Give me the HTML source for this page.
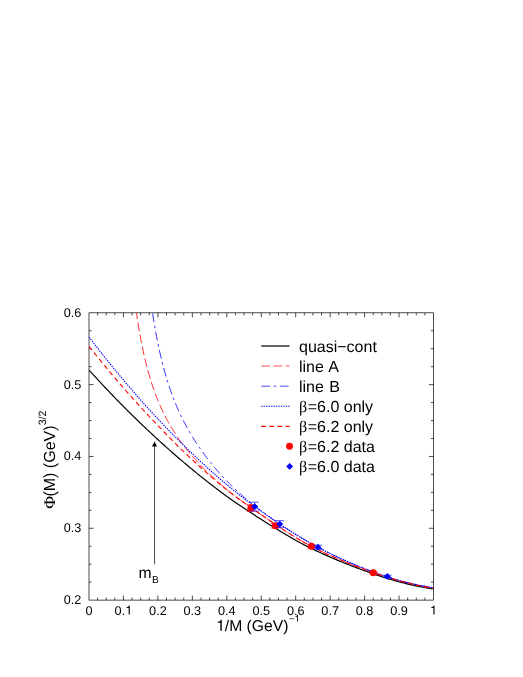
<!DOCTYPE html>
<html><head><meta charset="utf-8"><title>Phi(M) vs 1/M</title>
<style>
html,body{margin:0;padding:0;background:#fff;}
body{width:523px;height:677px;position:relative;overflow:hidden;font-family:"Liberation Sans",sans-serif;}
</style></head><body>
<svg width="523" height="677" viewBox="0 0 523 677" style="position:absolute;left:0;top:0">
<defs><clipPath id="c"><rect x="89" y="312.8" width="344.5" height="287.3"/></clipPath><filter id="gray" x="0" y="0" width="523" height="677" filterUnits="userSpaceOnUse" color-interpolation-filters="sRGB"><feColorMatrix type="saturate" values="0"/></filter></defs>
<rect x="89.0" y="312.8" width="344.5" height="287.3" fill="none" stroke="#000" stroke-width="0.7"/>
<path d="M97.61,600.1v-2.6M97.61,312.8v2.6M106.22,600.1v-2.6M106.22,312.8v2.6M114.84,600.1v-2.6M114.84,312.8v2.6M123.45,600.1v-4.6M123.45,312.8v4.6M132.06,600.1v-2.6M132.06,312.8v2.6M140.68,600.1v-2.6M140.68,312.8v2.6M149.29,600.1v-2.6M149.29,312.8v2.6M157.90,600.1v-4.6M157.90,312.8v4.6M166.51,600.1v-2.6M166.51,312.8v2.6M175.12,600.1v-2.6M175.12,312.8v2.6M183.74,600.1v-2.6M183.74,312.8v2.6M192.35,600.1v-4.6M192.35,312.8v4.6M200.96,600.1v-2.6M200.96,312.8v2.6M209.58,600.1v-2.6M209.58,312.8v2.6M218.19,600.1v-2.6M218.19,312.8v2.6M226.80,600.1v-4.6M226.80,312.8v4.6M235.41,600.1v-2.6M235.41,312.8v2.6M244.03,600.1v-2.6M244.03,312.8v2.6M252.64,600.1v-2.6M252.64,312.8v2.6M261.25,600.1v-4.6M261.25,312.8v4.6M269.86,600.1v-2.6M269.86,312.8v2.6M278.48,600.1v-2.6M278.48,312.8v2.6M287.09,600.1v-2.6M287.09,312.8v2.6M295.70,600.1v-4.6M295.70,312.8v4.6M304.31,600.1v-2.6M304.31,312.8v2.6M312.93,600.1v-2.6M312.93,312.8v2.6M321.54,600.1v-2.6M321.54,312.8v2.6M330.15,600.1v-4.6M330.15,312.8v4.6M338.76,600.1v-2.6M338.76,312.8v2.6M347.38,600.1v-2.6M347.38,312.8v2.6M355.99,600.1v-2.6M355.99,312.8v2.6M364.60,600.1v-4.6M364.60,312.8v4.6M373.21,600.1v-2.6M373.21,312.8v2.6M381.83,600.1v-2.6M381.83,312.8v2.6M390.44,600.1v-2.6M390.44,312.8v2.6M399.05,600.1v-4.6M399.05,312.8v4.6M407.66,600.1v-2.6M407.66,312.8v2.6M416.28,600.1v-2.6M416.28,312.8v2.6M424.89,600.1v-2.6M424.89,312.8v2.6M89.0,582.14h2.6M433.5,582.14h-2.6M89.0,564.19h2.6M433.5,564.19h-2.6M89.0,546.23h2.6M433.5,546.23h-2.6M89.0,528.27h4.6M433.5,528.27h-4.6M89.0,510.32h2.6M433.5,510.32h-2.6M89.0,492.36h2.6M433.5,492.36h-2.6M89.0,474.41h2.6M433.5,474.41h-2.6M89.0,456.45h4.6M433.5,456.45h-4.6M89.0,438.49h2.6M433.5,438.49h-2.6M89.0,420.54h2.6M433.5,420.54h-2.6M89.0,402.58h2.6M433.5,402.58h-2.6M89.0,384.63h4.6M433.5,384.63h-4.6M89.0,366.67h2.6M433.5,366.67h-2.6M89.0,348.71h2.6M433.5,348.71h-2.6M89.0,330.76h2.6M433.5,330.76h-2.6" stroke="#000" stroke-width="0.7" fill="none"/>
<g clip-path="url(#c)" fill="none">
<path d="M89.00,370.07 L90.15,371.34 L91.30,372.61 L92.46,373.87 L93.61,375.13 L94.76,376.39 L95.91,377.64 L97.07,378.89 L98.22,380.13 L99.37,381.37 L100.52,382.61 L101.67,383.84 L102.83,385.07 L103.98,386.30 L105.13,387.52 L106.28,388.74 L107.43,389.96 L108.59,391.17 L109.74,392.38 L110.89,393.58 L112.04,394.78 L113.20,395.98 L114.35,397.17 L115.50,398.36 L116.65,399.55 L117.80,400.73 L118.96,401.91 L120.11,403.09 L121.26,404.26 L122.41,405.43 L123.57,406.59 L124.72,407.75 L125.87,408.91 L127.02,410.06 L128.17,411.21 L129.33,412.35 L130.48,413.50 L131.63,414.63 L132.78,415.77 L133.93,416.90 L135.09,418.02 L136.24,419.15 L137.39,420.27 L138.54,421.38 L139.70,422.49 L140.85,423.60 L142.00,424.70 L143.15,425.81 L144.30,426.90 L145.46,428.00 L146.61,429.09 L147.76,430.17 L148.91,431.26 L150.07,432.34 L151.22,433.41 L152.37,434.49 L153.52,435.55 L154.67,436.62 L155.83,437.68 L156.98,438.74 L158.13,439.80 L159.28,440.85 L160.43,441.89 L161.59,442.94 L162.74,443.98 L163.89,445.02 L165.04,446.05 L166.20,447.08 L167.35,448.11 L168.50,449.13 L169.65,450.15 L170.80,451.17 L171.96,452.18 L173.11,453.19 L174.26,454.20 L175.41,455.20 L176.57,456.20 L177.72,457.20 L178.87,458.19 L180.02,459.18 L181.17,460.16 L182.33,461.15 L183.48,462.13 L184.63,463.10 L185.78,464.07 L186.93,465.04 L188.09,466.01 L189.24,466.97 L190.39,467.93 L191.54,468.88 L192.70,469.83 L193.85,470.78 L195.00,471.72 L196.15,472.66 L197.30,473.60 L198.46,474.53 L199.61,475.46 L200.76,476.39 L201.91,477.31 L203.07,478.23 L204.22,479.15 L205.37,480.06 L206.52,480.97 L207.67,481.87 L208.83,482.77 L209.98,483.67 L211.13,484.57 L212.28,485.46 L213.43,486.34 L214.59,487.23 L215.74,488.11 L216.89,488.98 L218.04,489.85 L219.20,490.72 L220.35,491.59 L221.50,492.45 L222.65,493.31 L223.80,494.16 L224.96,495.01 L226.11,495.86 L227.26,496.70 L228.41,497.54 L229.57,498.36 L230.72,499.18 L231.87,500.00 L233.02,500.80 L234.17,501.60 L235.33,502.40 L236.48,503.18 L237.63,503.97 L238.78,504.74 L239.93,505.52 L241.09,506.29 L242.24,507.05 L243.39,507.82 L244.54,508.58 L245.70,509.34 L246.85,510.09 L248.00,510.85 L249.15,511.60 L250.30,512.36 L251.46,513.11 L252.61,513.86 L253.76,514.62 L254.91,515.37 L256.07,516.13 L257.22,516.88 L258.37,517.62 L259.52,518.37 L260.67,519.11 L261.83,519.85 L262.98,520.58 L264.13,521.31 L265.28,522.04 L266.43,522.76 L267.59,523.48 L268.74,524.19 L269.89,524.90 L271.04,525.61 L272.20,526.32 L273.35,527.02 L274.50,527.72 L275.65,528.41 L276.80,529.11 L277.96,529.81 L279.11,530.50 L280.26,531.20 L281.41,531.90 L282.57,532.59 L283.72,533.28 L284.87,533.98 L286.02,534.67 L287.17,535.35 L288.33,536.03 L289.48,536.71 L290.63,537.39 L291.78,538.06 L292.93,538.72 L294.09,539.38 L295.24,540.03 L296.39,540.68 L297.54,541.32 L298.70,541.95 L299.85,542.57 L301.00,543.18 L302.15,543.79 L303.30,544.39 L304.46,544.99 L305.61,545.58 L306.76,546.16 L307.91,546.74 L309.07,547.32 L310.22,547.88 L311.37,548.45 L312.52,549.00 L313.67,549.56 L314.83,550.11 L315.98,550.65 L317.13,551.19 L318.28,551.73 L319.43,552.26 L320.59,552.79 L321.74,553.32 L322.89,553.84 L324.04,554.36 L325.20,554.88 L326.35,555.39 L327.50,555.90 L328.65,556.41 L329.80,556.92 L330.96,557.43 L332.11,557.93 L333.26,558.42 L334.41,558.92 L335.57,559.40 L336.72,559.89 L337.87,560.37 L339.02,560.85 L340.17,561.32 L341.33,561.79 L342.48,562.26 L343.63,562.72 L344.78,563.18 L345.93,563.64 L347.09,564.09 L348.24,564.54 L349.39,564.99 L350.54,565.44 L351.70,565.88 L352.85,566.33 L354.00,566.77 L355.15,567.20 L356.30,567.64 L357.46,568.07 L358.61,568.51 L359.76,568.94 L360.91,569.37 L362.07,569.79 L363.22,570.22 L364.37,570.64 L365.52,571.06 L366.67,571.48 L367.83,571.89 L368.98,572.30 L370.13,572.71 L371.28,573.12 L372.43,573.52 L373.59,573.92 L374.74,574.32 L375.89,574.72 L377.04,575.11 L378.20,575.49 L379.35,575.88 L380.50,576.26 L381.65,576.63 L382.80,577.01 L383.96,577.38 L385.11,577.74 L386.26,578.10 L387.41,578.46 L388.57,578.81 L389.72,579.16 L390.87,579.50 L392.02,579.84 L393.17,580.18 L394.33,580.51 L395.48,580.83 L396.63,581.16 L397.78,581.47 L398.93,581.78 L400.09,582.09 L401.24,582.39 L402.39,582.69 L403.54,582.98 L404.70,583.26 L405.85,583.55 L407.00,583.82 L408.15,584.10 L409.30,584.36 L410.46,584.63 L411.61,584.88 L412.76,585.14 L413.91,585.39 L415.07,585.63 L416.22,585.87 L417.37,586.11 L418.52,586.34 L419.67,586.57 L420.83,586.79 L421.98,587.01 L423.13,587.22 L424.28,587.43 L425.43,587.64 L426.59,587.84 L427.74,588.04 L428.89,588.23 L430.04,588.42 L431.20,588.60 L432.35,588.78 L433.50,588.95" stroke="#000" stroke-width="1.2"/>
<path d="M133.52,290.24 L134.58,298.87 L135.64,306.91 L136.70,314.42 L137.76,321.43 L138.82,327.99 L139.88,334.15 L140.94,339.94 L142.00,345.38 L143.06,350.51 L144.12,355.35 L145.18,359.92 L146.24,364.25 L147.30,368.36 L148.36,372.27 L149.42,375.98 L150.48,379.52 L151.54,382.89 L152.60,386.12 L153.66,389.22 L154.72,392.18 L155.78,395.03 L156.84,397.77 L157.90,400.41 L158.96,402.95 L160.02,405.40 L161.08,407.77 L162.14,410.07 L163.20,412.29 L164.26,414.44 L165.32,416.53 L166.38,418.56 L167.44,420.54 L168.50,422.46 L169.56,424.33 L170.62,426.15 L171.68,427.93 L172.74,429.67 L173.80,431.36 L174.86,433.02 L175.92,434.64 L176.98,436.23 L178.04,437.79 L179.10,439.31 L180.16,440.80 L181.22,442.26 L182.28,443.70 L183.34,445.11 L184.40,446.49 L185.46,447.85 L186.52,449.19 L187.58,450.50 L188.64,451.80 L189.70,453.07 L190.76,454.33 L191.82,455.57 L192.88,456.79 L193.94,457.99 L195.00,459.18 L196.06,460.36 L197.12,461.52 L198.18,462.66 L199.24,463.79 L200.30,464.91 L201.36,466.02 L202.42,467.11 L203.48,468.19 L204.54,469.26 L205.60,470.31 L206.66,471.36 L207.72,472.39 L208.78,473.42 L209.84,474.43 L210.90,475.44 L211.96,476.44 L213.02,477.42 L214.08,478.40 L215.14,479.37 L216.20,480.33 L217.26,481.28 L218.32,482.22 L219.38,483.16 L220.44,484.09 L221.50,485.01 L222.56,485.92 L223.62,486.83 L224.68,487.73 L225.74,488.62 L226.80,489.50 L227.86,490.38 L228.92,491.25 L229.98,492.11 L231.04,492.95 L232.10,493.79 L233.16,494.62 L234.22,495.43 L235.28,496.24 L236.34,497.05 L237.40,497.84 L238.46,498.63 L239.52,499.42 L240.58,500.19 L241.64,500.96 L242.70,501.73 L243.76,502.49 L244.82,503.25 L245.88,504.00 L246.94,504.75 L248.00,505.50 L249.06,506.25 L250.12,506.99 L251.18,507.73 L252.24,508.47 L253.30,509.21 L254.36,509.95 L255.42,510.69 L256.48,511.43 L257.54,512.17 L258.60,512.91 L259.66,513.65 L260.72,514.39 L261.78,515.13 L262.84,515.87 L263.90,516.60 L264.96,517.34 L266.02,518.07 L267.08,518.80 L268.14,519.52 L269.20,520.24 L270.26,520.96 L271.32,521.68 L272.38,522.39 L273.44,523.10 L274.50,523.80 L275.56,524.51 L276.62,525.21 L277.68,525.91 L278.74,526.62 L279.80,527.32 L280.86,528.02 L281.92,528.72 L282.98,529.42 L284.04,530.12 L285.10,530.81 L286.16,531.51 L287.22,532.19 L288.28,532.88 L289.34,533.56 L290.40,534.23 L291.46,534.90 L292.52,535.57 L293.58,536.22 L294.64,536.88 L295.70,537.52 L296.76,538.16 L297.82,538.79 L298.88,539.41 L299.94,540.02 L301.00,540.63 L302.06,541.23 L303.12,541.82 L304.18,542.41 L305.24,542.99 L306.30,543.57 L307.36,544.14 L308.42,544.71 L309.48,545.27 L310.54,545.83 L311.60,546.38 L312.66,546.93 L313.72,547.47 L314.78,548.01 L315.84,548.55 L316.90,549.08 L317.96,549.61 L319.02,550.13 L320.08,550.65 L321.14,551.16 L322.20,551.68 L323.26,552.19 L324.32,552.69 L325.38,553.19 L326.44,553.69 L327.50,554.19 L328.56,554.69 L329.62,555.18 L330.68,555.67 L331.74,556.15 L332.80,556.63 L333.86,557.10 L334.92,557.57 L335.98,558.03 L337.04,558.49 L338.10,558.95 L339.16,559.40 L340.22,559.85 L341.28,560.30 L342.34,560.74 L343.40,561.18 L344.46,561.61 L345.52,562.04 L346.58,562.47 L347.64,562.90 L348.70,563.33 L349.76,563.75 L350.82,564.17 L351.88,564.59 L352.94,565.01 L354.00,565.42 L355.06,565.84 L356.12,566.25 L357.18,566.66 L358.24,567.07 L359.30,567.49 L360.36,567.90 L361.42,568.30 L362.48,568.71 L363.54,569.11 L364.60,569.51 L365.66,569.90 L366.72,570.29 L367.78,570.68 L368.84,571.06 L369.90,571.44 L370.96,571.82 L372.02,572.19 L373.08,572.56 L374.14,572.93 L375.20,573.30 L376.26,573.66 L377.32,574.01 L378.38,574.37 L379.44,574.72 L380.50,575.06 L381.56,575.41 L382.62,575.75 L383.68,576.09 L384.74,576.42 L385.80,576.75 L386.86,577.08 L387.92,577.41 L388.98,577.73 L390.04,578.04 L391.10,578.36 L392.16,578.67 L393.22,578.98 L394.28,579.29 L395.34,579.59 L396.40,579.89 L397.46,580.18 L398.52,580.48 L399.58,580.77 L400.64,581.05 L401.70,581.34 L402.76,581.62 L403.82,581.89 L404.88,582.17 L405.94,582.44 L407.00,582.71 L408.06,582.97 L409.12,583.24 L410.18,583.50 L411.24,583.75 L412.30,584.00 L413.36,584.25 L414.42,584.50 L415.48,584.75 L416.54,584.99 L417.60,585.22 L418.66,585.46 L419.72,585.69 L420.78,585.92 L421.84,586.15 L422.90,586.37 L423.96,586.59 L425.02,586.81 L426.08,587.02 L427.14,587.24 L428.20,587.44 L429.26,587.65 L430.32,587.85 L431.38,588.05 L432.44,588.25 L433.50,588.45" stroke="#f00" stroke-width="0.8" stroke-dasharray="8.8 3.4" stroke-dashoffset="4.1"/>
<path d="M149.37,290.15 L150.41,298.08 L151.45,305.54 L152.48,312.56 L153.52,319.16 L154.56,325.40 L155.60,331.29 L156.63,336.86 L157.67,342.14 L158.71,347.15 L159.74,351.92 L160.78,356.45 L161.82,360.76 L162.85,364.88 L163.89,368.81 L164.93,372.57 L165.97,376.18 L167.00,379.63 L168.04,382.95 L169.08,386.14 L170.11,389.21 L171.15,392.17 L172.19,395.02 L173.22,397.77 L174.26,400.44 L175.30,403.02 L176.33,405.51 L177.37,407.94 L178.41,410.29 L179.45,412.57 L180.48,414.79 L181.52,416.95 L182.56,419.06 L183.59,421.11 L184.63,423.11 L185.67,425.07 L186.70,426.98 L187.74,428.85 L188.78,430.68 L189.82,432.47 L190.85,434.22 L191.89,435.94 L192.93,437.62 L193.96,439.28 L195.00,440.90 L196.04,442.50 L197.07,444.07 L198.11,445.62 L199.15,447.14 L200.18,448.64 L201.22,450.11 L202.26,451.57 L203.30,453.01 L204.33,454.42 L205.37,455.82 L206.41,457.19 L207.44,458.55 L208.48,459.89 L209.52,461.22 L210.55,462.52 L211.59,463.81 L212.63,465.09 L213.67,466.34 L214.70,467.59 L215.74,468.81 L216.78,470.02 L217.81,471.22 L218.85,472.40 L219.89,473.57 L220.92,474.72 L221.96,475.86 L223.00,476.98 L224.03,478.09 L225.07,479.19 L226.11,480.27 L227.15,481.34 L228.18,482.39 L229.22,483.44 L230.26,484.47 L231.29,485.48 L232.33,486.49 L233.37,487.49 L234.40,488.47 L235.44,489.44 L236.48,490.40 L237.52,491.35 L238.55,492.30 L239.59,493.23 L240.63,494.15 L241.66,495.06 L242.70,495.96 L243.74,496.85 L244.77,497.74 L245.81,498.61 L246.85,499.48 L247.88,500.34 L248.92,501.19 L249.96,502.04 L251.00,502.87 L252.03,503.70 L253.07,504.53 L254.11,505.34 L255.14,506.15 L256.18,506.95 L257.22,507.75 L258.25,508.54 L259.29,509.33 L260.33,510.11 L261.37,510.89 L262.40,511.66 L263.44,512.42 L264.48,513.18 L265.51,513.94 L266.55,514.70 L267.59,515.45 L268.62,516.20 L269.66,516.94 L270.70,517.68 L271.73,518.42 L272.77,519.15 L273.81,519.89 L274.85,520.61 L275.88,521.34 L276.92,522.06 L277.96,522.78 L278.99,523.49 L280.03,524.20 L281.07,524.91 L282.10,525.61 L283.14,526.31 L284.18,527.01 L285.22,527.70 L286.25,528.38 L287.29,529.07 L288.33,529.74 L289.36,530.42 L290.40,531.08 L291.44,531.75 L292.47,532.41 L293.51,533.06 L294.55,533.71 L295.58,534.35 L296.62,534.99 L297.66,535.63 L298.70,536.25 L299.73,536.88 L300.77,537.49 L301.81,538.10 L302.84,538.71 L303.88,539.32 L304.92,539.92 L305.95,540.52 L306.99,541.11 L308.03,541.70 L309.07,542.29 L310.10,542.88 L311.14,543.46 L312.18,544.03 L313.21,544.60 L314.25,545.17 L315.29,545.74 L316.32,546.30 L317.36,546.86 L318.40,547.42 L319.43,547.97 L320.47,548.51 L321.51,549.06 L322.55,549.60 L323.58,550.14 L324.62,550.67 L325.66,551.20 L326.69,551.73 L327.73,552.25 L328.77,552.77 L329.80,553.29 L330.84,553.80 L331.88,554.31 L332.92,554.82 L333.95,555.32 L334.99,555.82 L336.03,556.32 L337.06,556.81 L338.10,557.30 L339.14,557.78 L340.17,558.27 L341.21,558.74 L342.25,559.22 L343.28,559.69 L344.32,560.16 L345.36,560.63 L346.40,561.09 L347.43,561.55 L348.47,562.00 L349.51,562.46 L350.54,562.90 L351.58,563.35 L352.62,563.79 L353.65,564.23 L354.69,564.67 L355.73,565.10 L356.77,565.53 L357.80,565.95 L358.84,566.38 L359.88,566.80 L360.91,567.21 L361.95,567.63 L362.99,568.04 L364.02,568.45 L365.06,568.86 L366.10,569.26 L367.13,569.66 L368.17,570.06 L369.21,570.46 L370.25,570.85 L371.28,571.25 L372.32,571.63 L373.36,572.02 L374.39,572.40 L375.43,572.78 L376.47,573.16 L377.50,573.53 L378.54,573.90 L379.58,574.27 L380.62,574.63 L381.65,574.99 L382.69,575.35 L383.73,575.70 L384.76,576.05 L385.80,576.40 L386.84,576.74 L387.87,577.07 L388.91,577.41 L389.95,577.74 L390.98,578.06 L392.02,578.38 L393.06,578.70 L394.10,579.01 L395.13,579.32 L396.17,579.63 L397.21,579.93 L398.24,580.22 L399.28,580.51 L400.32,580.79 L401.35,581.08 L402.39,581.35 L403.43,581.62 L404.47,581.89 L405.50,582.15 L406.54,582.41 L407.58,582.67 L408.61,582.92 L409.65,583.16 L410.69,583.40 L411.72,583.64 L412.76,583.87 L413.80,584.10 L414.83,584.32 L415.87,584.54 L416.91,584.76 L417.95,584.97 L418.98,585.18 L420.02,585.38 L421.06,585.58 L422.09,585.78 L423.13,585.97 L424.17,586.16 L425.20,586.34 L426.24,586.52 L427.28,586.69 L428.32,586.87 L429.35,587.03 L430.39,587.20 L431.43,587.36 L432.46,587.51 L433.50,587.66" stroke="#00f" stroke-width="0.8" stroke-dasharray="8.8 3.6 2.6 3.6" stroke-dashoffset="13.7"/>
<path d="M89.00,336.99 L90.15,338.50 L91.30,340.00 L92.46,341.50 L93.61,342.99 L94.76,344.48 L95.91,345.97 L97.07,347.45 L98.22,348.92 L99.37,350.39 L100.52,351.86 L101.67,353.32 L102.83,354.77 L103.98,356.23 L105.13,357.67 L106.28,359.11 L107.43,360.55 L108.59,361.98 L109.74,363.41 L110.89,364.83 L112.04,366.25 L113.20,367.67 L114.35,369.08 L115.50,370.48 L116.65,371.88 L117.80,373.27 L118.96,374.66 L120.11,376.05 L121.26,377.43 L122.41,378.81 L123.57,380.18 L124.72,381.55 L125.87,382.91 L127.02,384.27 L128.17,385.62 L129.33,386.97 L130.48,388.31 L131.63,389.65 L132.78,390.98 L133.93,392.31 L135.09,393.64 L136.24,394.96 L137.39,396.28 L138.54,397.59 L139.70,398.89 L140.85,400.20 L142.00,401.49 L143.15,402.79 L144.30,404.07 L145.46,405.36 L146.61,406.64 L147.76,407.91 L148.91,409.18 L150.07,410.44 L151.22,411.70 L152.37,412.96 L153.52,414.21 L154.67,415.46 L155.83,416.70 L156.98,417.94 L158.13,419.17 L159.28,420.40 L160.43,421.62 L161.59,422.84 L162.74,424.05 L163.89,425.26 L165.04,426.47 L166.20,427.67 L167.35,428.87 L168.50,430.06 L169.65,431.24 L170.80,432.43 L171.96,433.60 L173.11,434.78 L174.26,435.95 L175.41,437.11 L176.57,438.27 L177.72,439.42 L178.87,440.57 L180.02,441.72 L181.17,442.86 L182.33,444.00 L183.48,445.13 L184.63,446.26 L185.78,447.38 L186.93,448.50 L188.09,449.61 L189.24,450.72 L190.39,451.83 L191.54,452.93 L192.70,454.02 L193.85,455.11 L195.00,456.20 L196.15,457.28 L197.30,458.37 L198.46,459.44 L199.61,460.52 L200.76,461.59 L201.91,462.66 L203.07,463.73 L204.22,464.79 L205.37,465.85 L206.52,466.91 L207.67,467.96 L208.83,469.01 L209.98,470.05 L211.13,471.09 L212.28,472.13 L213.43,473.16 L214.59,474.19 L215.74,475.21 L216.89,476.22 L218.04,477.23 L219.20,478.24 L220.35,479.24 L221.50,480.23 L222.65,481.22 L223.80,482.20 L224.96,483.17 L226.11,484.14 L227.26,485.10 L228.41,486.06 L229.57,487.01 L230.72,487.95 L231.87,488.89 L233.02,489.82 L234.17,490.75 L235.33,491.67 L236.48,492.58 L237.63,493.49 L238.78,494.40 L239.93,495.30 L241.09,496.19 L242.24,497.08 L243.39,497.97 L244.54,498.85 L245.70,499.73 L246.85,500.60 L248.00,501.47 L249.15,502.33 L250.30,503.19 L251.46,504.04 L252.61,504.89 L253.76,505.74 L254.91,506.58 L256.07,507.42 L257.22,508.26 L258.37,509.09 L259.52,509.92 L260.67,510.75 L261.83,511.57 L262.98,512.39 L264.13,513.21 L265.28,514.03 L266.43,514.84 L267.59,515.65 L268.74,516.46 L269.89,517.27 L271.04,518.07 L272.20,518.88 L273.35,519.68 L274.50,520.47 L275.65,521.27 L276.80,522.06 L277.96,522.85 L279.11,523.63 L280.26,524.41 L281.41,525.19 L282.57,525.96 L283.72,526.73 L284.87,527.50 L286.02,528.26 L287.17,529.01 L288.33,529.76 L289.48,530.51 L290.63,531.25 L291.78,531.98 L292.93,532.71 L294.09,533.43 L295.24,534.15 L296.39,534.86 L297.54,535.56 L298.70,536.26 L299.85,536.95 L301.00,537.63 L302.15,538.31 L303.30,538.99 L304.46,539.66 L305.61,540.32 L306.76,540.98 L307.91,541.64 L309.07,542.29 L310.22,542.94 L311.37,543.58 L312.52,544.22 L313.67,544.86 L314.83,545.49 L315.98,546.12 L317.13,546.74 L318.28,547.35 L319.43,547.97 L320.59,548.58 L321.74,549.18 L322.89,549.78 L324.04,550.38 L325.20,550.97 L326.35,551.55 L327.50,552.14 L328.65,552.71 L329.80,553.29 L330.96,553.86 L332.11,554.42 L333.26,554.99 L334.41,555.54 L335.57,556.10 L336.72,556.64 L337.87,557.19 L339.02,557.73 L340.17,558.27 L341.33,558.80 L342.48,559.33 L343.63,559.85 L344.78,560.37 L345.93,560.88 L347.09,561.39 L348.24,561.90 L349.39,562.41 L350.54,562.90 L351.70,563.40 L352.85,563.89 L354.00,564.38 L355.15,564.86 L356.30,565.34 L357.46,565.81 L358.61,566.28 L359.76,566.75 L360.91,567.21 L362.07,567.67 L363.22,568.13 L364.37,568.58 L365.52,569.04 L366.67,569.48 L367.83,569.93 L368.98,570.37 L370.13,570.81 L371.28,571.25 L372.43,571.68 L373.59,572.11 L374.74,572.53 L375.89,572.95 L377.04,573.37 L378.20,573.78 L379.35,574.19 L380.50,574.59 L381.65,574.99 L382.80,575.39 L383.96,575.78 L385.11,576.17 L386.26,576.55 L387.41,576.93 L388.57,577.30 L389.72,577.67 L390.87,578.03 L392.02,578.38 L393.17,578.74 L394.33,579.08 L395.48,579.42 L396.63,579.76 L397.78,580.09 L398.93,580.41 L400.09,580.73 L401.24,581.04 L402.39,581.35 L403.54,581.65 L404.70,581.95 L405.85,582.24 L407.00,582.53 L408.15,582.81 L409.30,583.08 L410.46,583.35 L411.61,583.61 L412.76,583.87 L413.91,584.13 L415.07,584.37 L416.22,584.62 L417.37,584.85 L418.52,585.09 L419.67,585.32 L420.83,585.54 L421.98,585.76 L423.13,585.97 L424.28,586.18 L425.43,586.38 L426.59,586.58 L427.74,586.77 L428.89,586.96 L430.04,587.14 L431.20,587.32 L432.35,587.49 L433.50,587.66" stroke="#00f" stroke-width="1.15" stroke-dasharray="1.35 1.1"/>
<path d="M89.00,346.31 L90.15,347.77 L91.30,349.22 L92.46,350.67 L93.61,352.11 L94.76,353.55 L95.91,354.99 L97.07,356.42 L98.22,357.84 L99.37,359.26 L100.52,360.68 L101.67,362.09 L102.83,363.50 L103.98,364.90 L105.13,366.30 L106.28,367.69 L107.43,369.08 L108.59,370.46 L109.74,371.84 L110.89,373.22 L112.04,374.59 L113.20,375.95 L114.35,377.32 L115.50,378.67 L116.65,380.03 L117.80,381.37 L118.96,382.72 L120.11,384.06 L121.26,385.39 L122.41,386.72 L123.57,388.05 L124.72,389.37 L125.87,390.69 L127.02,392.00 L128.17,393.31 L129.33,394.61 L130.48,395.91 L131.63,397.20 L132.78,398.49 L133.93,399.78 L135.09,401.06 L136.24,402.34 L137.39,403.61 L138.54,404.88 L139.70,406.14 L140.85,407.40 L142.00,408.65 L143.15,409.90 L144.30,411.15 L145.46,412.39 L146.61,413.62 L147.76,414.86 L148.91,416.08 L150.07,417.31 L151.22,418.53 L152.37,419.75 L153.52,420.96 L154.67,422.18 L155.83,423.39 L156.98,424.60 L158.13,425.81 L159.28,427.02 L160.43,428.22 L161.59,429.42 L162.74,430.62 L163.89,431.81 L165.04,433.00 L166.20,434.19 L167.35,435.37 L168.50,436.55 L169.65,437.73 L170.80,438.90 L171.96,440.06 L173.11,441.23 L174.26,442.38 L175.41,443.53 L176.57,444.68 L177.72,445.82 L178.87,446.96 L180.02,448.09 L181.17,449.21 L182.33,450.33 L183.48,451.44 L184.63,452.54 L185.78,453.64 L186.93,454.73 L188.09,455.82 L189.24,456.91 L190.39,457.99 L191.54,459.07 L192.70,460.14 L193.85,461.21 L195.00,462.27 L196.15,463.33 L197.30,464.38 L198.46,465.43 L199.61,466.48 L200.76,467.52 L201.91,468.55 L203.07,469.58 L204.22,470.61 L205.37,471.63 L206.52,472.65 L207.67,473.66 L208.83,474.67 L209.98,475.67 L211.13,476.67 L212.28,477.67 L213.43,478.66 L214.59,479.64 L215.74,480.62 L216.89,481.59 L218.04,482.56 L219.20,483.53 L220.35,484.49 L221.50,485.45 L222.65,486.40 L223.80,487.34 L224.96,488.28 L226.11,489.22 L227.26,490.15 L228.41,491.07 L229.57,491.98 L230.72,492.88 L231.87,493.77 L233.02,494.66 L234.17,495.53 L235.33,496.40 L236.48,497.25 L237.63,498.11 L238.78,498.95 L239.93,499.79 L241.09,500.62 L242.24,501.45 L243.39,502.27 L244.54,503.09 L245.70,503.91 L246.85,504.72 L248.00,505.53 L249.15,506.34 L250.30,507.14 L251.46,507.94 L252.61,508.74 L253.76,509.54 L254.91,510.35 L256.07,511.15 L257.22,511.95 L258.37,512.75 L259.52,513.56 L260.67,514.36 L261.83,515.17 L262.98,515.97 L264.13,516.77 L265.28,517.56 L266.43,518.35 L267.59,519.14 L268.74,519.93 L269.89,520.71 L271.04,521.49 L272.20,522.27 L273.35,523.04 L274.50,523.80 L275.65,524.57 L276.80,525.33 L277.96,526.10 L279.11,526.86 L280.26,527.63 L281.41,528.39 L282.57,529.15 L283.72,529.91 L284.87,530.66 L286.02,531.42 L287.17,532.16 L288.33,532.91 L289.48,533.65 L290.63,534.38 L291.78,535.10 L292.93,535.82 L294.09,536.54 L295.24,537.24 L296.39,537.94 L297.54,538.62 L298.70,539.30 L299.85,539.97 L301.00,540.63 L302.15,541.28 L303.30,541.92 L304.46,542.56 L305.61,543.19 L306.76,543.82 L307.91,544.44 L309.07,545.05 L310.22,545.66 L311.37,546.26 L312.52,546.86 L313.67,547.45 L314.83,548.04 L315.98,548.62 L317.13,549.19 L318.28,549.77 L319.43,550.33 L320.59,550.90 L321.74,551.45 L322.89,552.01 L324.04,552.56 L325.20,553.11 L326.35,553.65 L327.50,554.19 L328.65,554.73 L329.80,555.26 L330.96,555.79 L332.11,556.32 L333.26,556.83 L334.41,557.35 L335.57,557.85 L336.72,558.36 L337.87,558.85 L339.02,559.34 L340.17,559.83 L341.33,560.32 L342.48,560.80 L343.63,561.27 L344.78,561.74 L345.93,562.21 L347.09,562.68 L348.24,563.14 L349.39,563.60 L350.54,564.06 L351.70,564.52 L352.85,564.97 L354.00,565.42 L355.15,565.87 L356.30,566.32 L357.46,566.77 L358.61,567.22 L359.76,567.66 L360.91,568.11 L362.07,568.55 L363.22,568.99 L364.37,569.42 L365.52,569.85 L366.67,570.27 L367.83,570.70 L368.98,571.11 L370.13,571.52 L371.28,571.93 L372.43,572.34 L373.59,572.74 L374.74,573.14 L375.89,573.53 L377.04,573.92 L378.20,574.31 L379.35,574.69 L380.50,575.06 L381.65,575.44 L382.80,575.81 L383.96,576.17 L385.11,576.54 L386.26,576.90 L387.41,577.25 L388.57,577.60 L389.72,577.95 L390.87,578.29 L392.02,578.63 L393.17,578.97 L394.33,579.30 L395.48,579.63 L396.63,579.95 L397.78,580.27 L398.93,580.59 L400.09,580.90 L401.24,581.21 L402.39,581.52 L403.54,581.82 L404.70,582.12 L405.85,582.42 L407.00,582.71 L408.15,583.00 L409.30,583.28 L410.46,583.56 L411.61,583.84 L412.76,584.11 L413.91,584.38 L415.07,584.65 L416.22,584.91 L417.37,585.17 L418.52,585.43 L419.67,585.68 L420.83,585.93 L421.98,586.18 L423.13,586.42 L424.28,586.66 L425.43,586.89 L426.59,587.13 L427.74,587.35 L428.89,587.58 L430.04,587.80 L431.20,588.02 L432.35,588.23 L433.50,588.45" stroke="#f00" stroke-width="1.1" stroke-dasharray="4.8 3.3"/>
</g>
<path d="M250.9,504.6V511.4M246.6,504.6h8.6M246.6,511.4h8.6" stroke="#f00" stroke-width="0.6" fill="none"/>
<circle cx="250.9" cy="508.0" r="3.5" fill="#f00"/>
<path d="M275.2,523.5999999999999V528.0M270.9,523.5999999999999h8.6M270.9,528.0h8.6" stroke="#f00" stroke-width="0.6" fill="none"/>
<circle cx="275.2" cy="525.8" r="3.5" fill="#f00"/>
<path d="M311.4,544.7V547.7M307.09999999999997,544.7h8.6M307.09999999999997,547.7h8.6" stroke="#f00" stroke-width="0.6" fill="none"/>
<circle cx="311.4" cy="546.2" r="3.5" fill="#f00"/>
<path d="M373.3,571.5999999999999V574.0M369.0,571.5999999999999h8.6M369.0,574.0h8.6" stroke="#f00" stroke-width="0.6" fill="none"/>
<circle cx="373.3" cy="572.8" r="3.5" fill="#f00"/>
<path d="M254.7,502.20000000000005V511.0M250.39999999999998,502.20000000000005h8.6M250.39999999999998,511.0h8.6" stroke="#00f" stroke-width="0.62" fill="none"/>
<path d="M251.25,506.6L254.7,503.15000000000003L258.15,506.6L254.7,510.05Z" fill="#00f"/>
<path d="M279.8,520.6V527.6M275.5,520.6h8.6M275.5,527.6h8.6" stroke="#00f" stroke-width="0.62" fill="none"/>
<path d="M276.35,524.1L279.8,520.65L283.25,524.1L279.8,527.5500000000001Z" fill="#00f"/>
<path d="M318.0,545.2V549.2M313.7,545.2h8.6M313.7,549.2h8.6" stroke="#00f" stroke-width="0.62" fill="none"/>
<path d="M314.55,547.2L318.0,543.75L321.45,547.2L318.0,550.6500000000001Z" fill="#00f"/>
<path d="M387.4,575.1999999999999V577.6M383.09999999999997,575.1999999999999h8.6M383.09999999999997,577.6h8.6" stroke="#00f" stroke-width="0.62" fill="none"/>
<path d="M383.95,576.4L387.4,572.9499999999999L390.84999999999997,576.4L387.4,579.85Z" fill="#00f"/>
<path d="M154.55,564.3V445" stroke="#000" stroke-width="0.7" fill="none"/>
<path d="M154.55,441.6l-2.55,4.9h5.1z" fill="#000"/>
<path d="M261.2,346.0H289.6" stroke="#000" stroke-width="1.2"/>
<path d="M261.2,366.0H289.6" stroke="#f00" stroke-width="0.7" stroke-dasharray="8.8 3.4"/>
<path d="M261.2,386.2H289.6" stroke="#00f" stroke-width="0.7" stroke-dasharray="8.8 3.6 2.6 3.6"/>
<path d="M261.2,406.2H289.6" stroke="#00f" stroke-width="1.15" stroke-dasharray="1.35 1.1"/>
<path d="M261.2,426.4H289.6" stroke="#f00" stroke-width="1.1" stroke-dasharray="4.8 3.3"/>
<circle cx="289.55" cy="446.3" r="3.45" fill="#f00"/>
<path d="M286.2,466.4L289.65,462.95L293.09999999999997,466.4L289.65,469.84999999999997Z" fill="#00f"/>
<g font-family="Liberation Sans, sans-serif" fill="#000" filter="url(#gray)" text-rendering="geometricPrecision">
<text x="299.0" y="351.50" font-size="16.0">quasi−cont</text>
<text x="299.0" y="371.55" font-size="16.0">line<tspan dx="0.9"> </tspan>A</text>
<text x="299.0" y="391.60" font-size="16.0">line<tspan dx="0.9"> </tspan>B</text>
<text x="299.0" y="411.65" font-size="16.0"><tspan font-family="Liberation Serif, serif">β</tspan><tspan dx="0.6">=</tspan>6.0 only</text>
<text x="299.0" y="431.70" font-size="16.0"><tspan font-family="Liberation Serif, serif">β</tspan><tspan dx="0.6">=</tspan>6.2 only</text>
<text x="299.0" y="451.75" font-size="16.0"><tspan font-family="Liberation Serif, serif">β</tspan><tspan dx="0.6">=</tspan>6.2 data</text>
<text x="299.0" y="471.80" font-size="16.0"><tspan font-family="Liberation Serif, serif">β</tspan><tspan dx="0.6">=</tspan>6.0 data</text>
<text x="89.00" y="614.5" font-size="12.7" text-anchor="middle">0</text>
<text x="114.62" y="614.5" font-size="12.7">0.</text>
<path d="M129.77,614.50V605.50H129.00C128.83,606.37 127.95,607.07 126.55,607.24V607.96H128.64V614.50Z" fill="#000"/>
<text x="157.90" y="614.5" font-size="12.7" text-anchor="middle">0.2</text>
<text x="192.35" y="614.5" font-size="12.7" text-anchor="middle">0.3</text>
<text x="226.80" y="614.5" font-size="12.7" text-anchor="middle">0.4</text>
<text x="261.25" y="614.5" font-size="12.7" text-anchor="middle">0.5</text>
<text x="295.70" y="614.5" font-size="12.7" text-anchor="middle">0.6</text>
<text x="330.15" y="614.5" font-size="12.7" text-anchor="middle">0.7</text>
<text x="364.60" y="614.5" font-size="12.7" text-anchor="middle">0.8</text>
<text x="399.05" y="614.5" font-size="12.7" text-anchor="middle">0.9</text>
<path d="M434.53,614.50V605.50H433.75C433.59,606.37 432.70,607.07 431.30,607.24V607.96H433.40V614.50Z" fill="#000"/>
<text x="81.35" y="604.05" font-size="12.7" text-anchor="end">0.2</text>
<text x="81.35" y="532.23" font-size="12.7" text-anchor="end">0.3</text>
<text x="81.35" y="460.40" font-size="12.7" text-anchor="end">0.4</text>
<text x="81.35" y="388.58" font-size="12.7" text-anchor="end">0.5</text>
<text x="81.35" y="316.75" font-size="12.7" text-anchor="end">0.6</text>
<path d="M221.74,630.80V619.67H220.78C220.57,620.75 219.48,621.62 217.75,621.82V622.71H220.34V630.80Z" fill="#000"/>
<text x="224.83" y="630.8" font-size="15.7">/M (GeV)</text>
<text x="288.9" y="621.6" font-size="9.6">−</text>
<path d="M297.95,621.60V614.79H297.37C297.24,615.46 296.57,615.98 295.51,616.11V616.66H297.10V621.60Z" fill="#000"/>
<g transform="translate(54.6,508.8) rotate(-90)">
<text transform="scale(1.09,1)" x="0" y="0" font-family="Liberation Serif, serif" font-size="16.05">Φ</text>
<text x="12.2" y="0" font-size="16.05">(M) (GeV)<tspan font-size="10.7" dy="-8.5">3/2</tspan></text>
</g>
<text x="138.5" y="578.1" font-size="15.7">m</text><text x="152" y="582.6" font-size="10.2">B</text>
</g>
</svg>
</body></html>
